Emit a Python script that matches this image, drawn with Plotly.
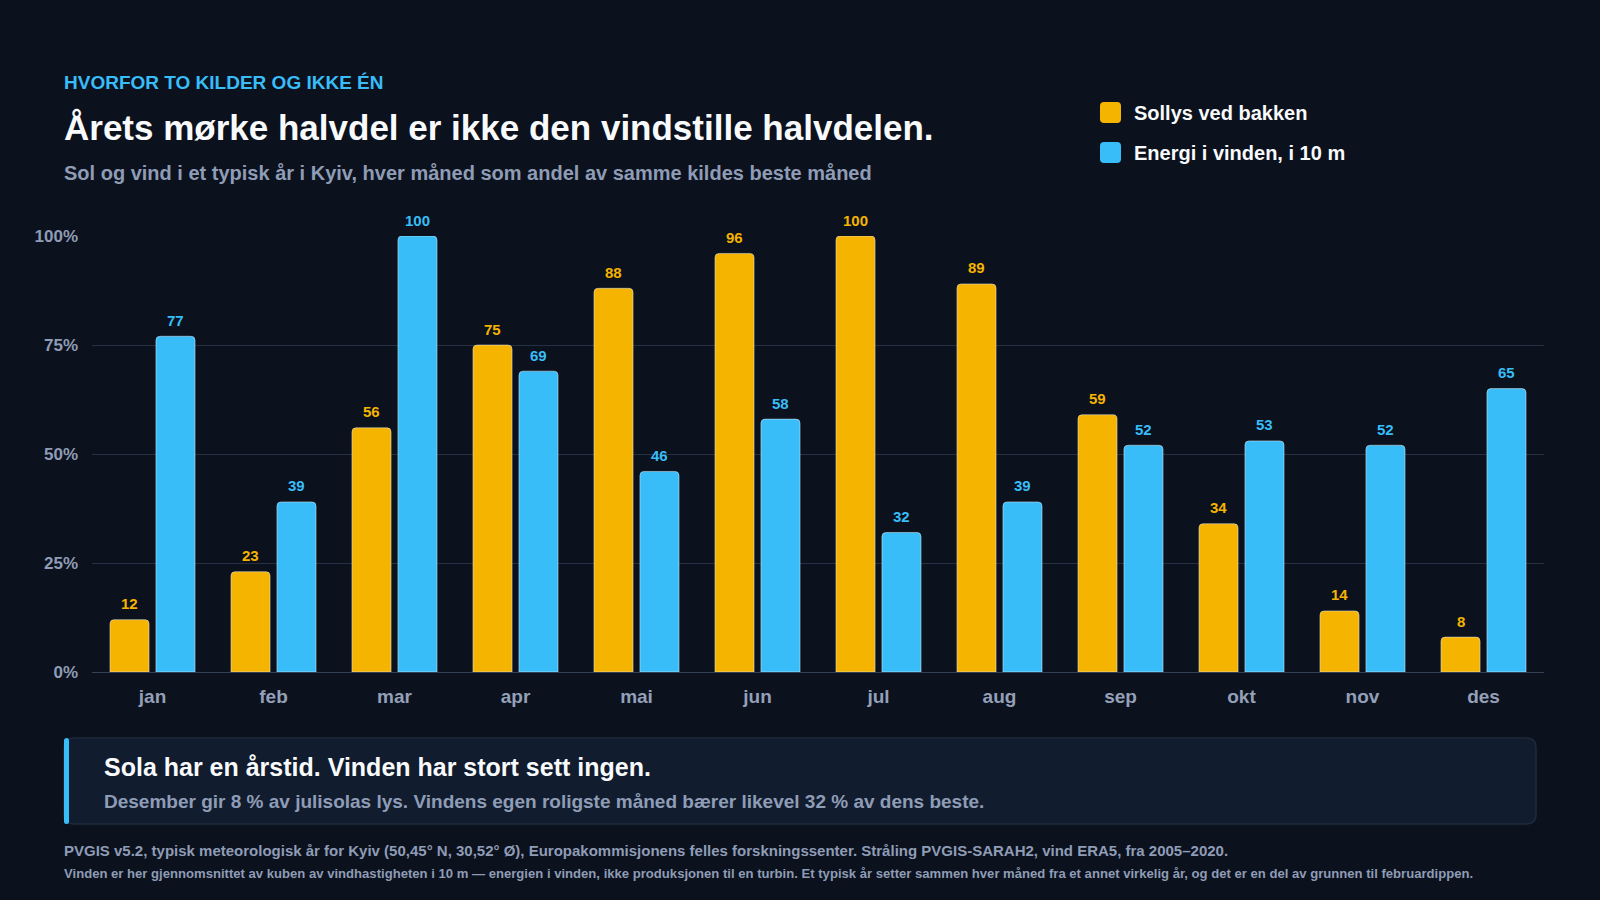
import plotly.graph_objects as go

# månedlige verdier, andel av kildens beste måned (%)
months = ['jan', 'feb', 'mar', 'apr', 'mai', 'jun', 'jul', 'aug', 'sep', 'okt', 'nov', 'des']
sol = [12, 23, 56, 75, 88, 96, 100, 89, 59, 34, 14, 8]
vind = [77, 39, 100, 69, 46, 58, 32, 39, 52, 53, 52, 65]
y_ticks = [0, 25, 50, 75, 100]
y_ticktext = ['0%', '25%', '50%', '75%', '100%']

W, H = 1600, 900
L, R, T, B = 92, 1544, 236, 672   # plot area in pixels

BG = '#0b111d'
SOL_C = '#f4b400'
VIND_C = '#38bdf8'
MUTED = '#8f9cb6'
FONT = 'Liberation Sans, Arial, sans-serif'


def px(x):
    return (x - L) / (R - L)


def py(y):
    return (B - y) / (B - T)


def rrect(x0, y0, x1, y1, r):
    # rounded rectangle as svg path in paper coords
    rx = r / (R - L)
    ry = r / (B - T)
    a, b, c, d = px(x0), px(x1), py(y1), py(y0)
    return (f'M{a+rx},{c} L{b-rx},{c} Q{b},{c} {b},{c+ry} L{b},{d-ry} Q{b},{d} {b-rx},{d} '
            f'L{a+rx},{d} Q{a},{d} {a},{d-ry} L{a},{c+ry} Q{a},{c} {a+rx},{c} Z')


fig = go.Figure()
fig.add_trace(go.Bar(x=months, y=sol, name='Sollys ved bakken', marker_color=SOL_C))
fig.add_trace(go.Bar(x=months, y=vind, name='Energi i vinden, i 10 m', marker_color=VIND_C))

shapes = [
    # callout box
    dict(type='path', xref='paper', yref='paper', path=rrect(64, 738, 1536, 824, 10),
         fillcolor='#111c2e', line=dict(color='#1e2a3d', width=1.5), layer='below'),
    dict(type='path', xref='paper', yref='paper', path=rrect(64, 738, 69, 824, 2.5),
         fillcolor=VIND_C, line=dict(width=0)),
    # legend squares
    dict(type='path', xref='paper', yref='paper', path=rrect(1100, 102, 1121, 123, 4),
         fillcolor=SOL_C, line=dict(width=0)),
    dict(type='path', xref='paper', yref='paper', path=rrect(1100, 142, 1121, 163, 4),
         fillcolor=VIND_C, line=dict(width=0)),
]


def note(x, y, text, size, color, xanchor='left'):
    return dict(xref='paper', yref='paper', x=px(x), y=py(y), text=text, showarrow=False,
                xanchor=xanchor, yanchor='middle',
                font=dict(family=FONT, size=size, color=color, weight='bold'))


annotations = [
    note(62, 82, 'HVORFOR TO KILDER OG IKKE ÉN', 19, VIND_C),
    note(62, 128, 'Årets mørke halvdel er ikke den vindstille halvdelen.', 35, '#f8fafc'),
    note(62, 173, 'Sol og vind i et typisk år i Kyiv, hver måned som andel av samme kildes beste måned', 20, MUTED),
    note(1132, 113, 'Sollys ved bakken', 20, '#f8fafc'),
    note(1132, 153, 'Energi i vinden, i 10 m', 20, '#f8fafc'),
    note(102, 767, 'Sola har en årstid. Vinden har stort sett ingen.', 25, '#f8fafc'),
    note(102, 801, 'Desember gir 8 % av julisolas lys. Vindens egen roligste måned bærer likevel 32 % av dens beste.', 19, MUTED),
    note(62, 850, 'PVGIS v5.2, typisk meteorologisk år for Kyiv (50,45° N, 30,52° Ø), Europakommisjonens felles '
         'forskningssenter. Stråling PVGIS-SARAH2, vind ERA5, fra 2005–2020.', 15, MUTED),
    note(62, 873, 'Vinden er her gjennomsnittet av kuben av vindhastigheten i 10 m — energien i vinden, ikke '
         'produksjonen til en turbin. Et typisk år setter sammen hver måned fra et annet virkelig år, og det '
         'er en del av grunnen til februardippen.', 13.1, MUTED),
]

# value labels above each bar, shifted to the bar's slot within the group
for vals, color, shift in [(sol, SOL_C, -23), (vind, VIND_C, 23)]:
    for m, v in zip(months, vals):
        annotations.append(dict(x=m, y=v, xref='x', yref='y', text=str(v), showarrow=False,
                                xshift=shift, yshift=16, yanchor='middle',
                                font=dict(family=FONT, size=15, color=color, weight='bold')))

fig.update_layout(
    width=W, height=H,
    margin=dict(l=L, r=W - R, t=T, b=H - B),
    paper_bgcolor=BG, plot_bgcolor=BG,
    barmode='group', bargap=0.24, bargroupgap=0.15, barcornerradius=4,
    showlegend=False,
    shapes=shapes, annotations=annotations,
    font=dict(family=FONT, color=MUTED),
)
fig.update_xaxes(showgrid=False, showline=False, ticks='', ticklabelstandoff=11,
                 tickfont=dict(size=19, color='#94a0b8', family=FONT, weight='bold'))
fig.update_yaxes(range=[0, 100], tickmode='array', tickvals=y_ticks, ticktext=y_ticktext,
                 showline=False, gridcolor='#253043', gridwidth=1, zeroline=True,
                 zerolinecolor='#364258', zerolinewidth=1, ticklabelstandoff=13,
                 tickfont=dict(size=17, color=MUTED, family=FONT, weight='bold'))

fig.write_html('out.html', config={'displayModeBar': False},
               post_script="document.body.style.margin='0';")
